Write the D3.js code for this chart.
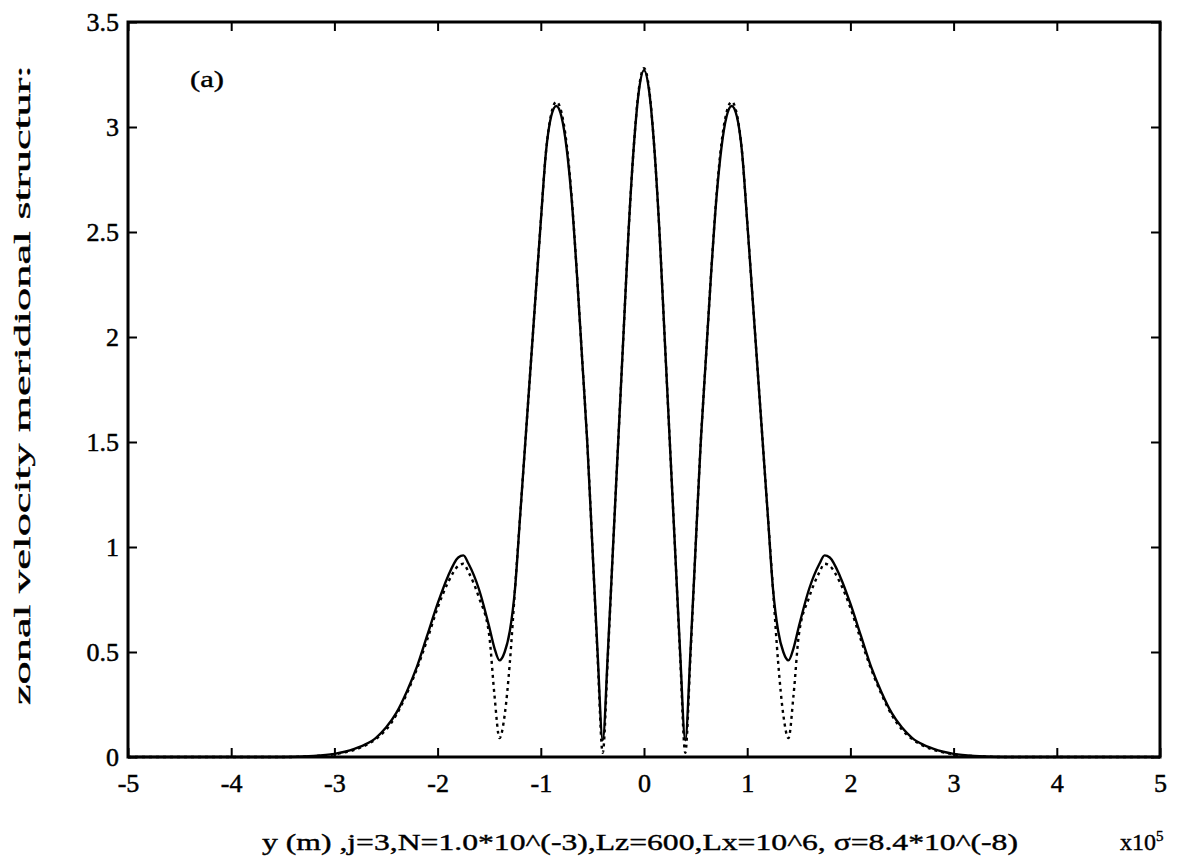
<!DOCTYPE html>
<html>
<head>
<meta charset="utf-8">
<script src="https://cdn.jsdelivr.net/npm/d3@7"></script>
<style>
  body { margin: 0; background: #fff; }
  svg { display: block; }
  .tick text { font-family: "Liberation Serif", "DejaVu Serif", serif; font-size: 26px; fill: #000; stroke: #000; stroke-width: 0.5px; }
  .label { font-family: "Liberation Serif", "DejaVu Serif", serif; font-size: 24px; fill: #000; stroke: #000; stroke-width: 0.4px; }
</style>
</head>
<body>
<svg id="chart" width="1191" height="867"></svg>
<script>
// meridional coordinate, units of 1e5 m
const yPos = [
  -5, -4, -3.5, -3.2, -3.0, -2.9, -2.8, -2.7, -2.6, -2.5, -2.4, -2.3, -2.2, -2.1, -2.0,
  -1.9, -1.8, -1.75, -1.7, -1.6, -1.5, -1.45, -1.4, -1.35, -1.3, -1.25, -1.2, -1.15, -1.1,
  -1.05, -1.0, -0.95, -0.9, -0.85, -0.8, -0.75, -0.7, -0.65, -0.6, -0.55, -0.5, -0.45, -0.4,
  -0.35, -0.3, -0.25, -0.2, -0.15, -0.1, -0.05, 0,
  0.05, 0.1, 0.15, 0.2, 0.25, 0.3, 0.35, 0.4, 0.45, 0.5, 0.55, 0.6, 0.65, 0.7, 0.75, 0.8,
  0.85, 0.9, 0.95, 1.0, 1.05, 1.1, 1.15, 1.2, 1.25, 1.3, 1.35, 1.4, 1.45, 1.5, 1.6, 1.7,
  1.75, 1.8, 1.9, 2.0, 2.1, 2.2, 2.3, 2.4, 2.5, 2.6, 2.7, 2.8, 2.9, 3.0, 3.2, 3.5, 4, 5
];

// solid curve
const solidVals = [
  0, 0, 0, 0.005, 0.015, 0.025, 0.04, 0.06, 0.09, 0.14, 0.21, 0.31, 0.43, 0.58, 0.73,
  0.86, 0.95, 0.96, 0.92, 0.8, 0.62, 0.52, 0.46, 0.5, 0.6, 0.8, 1.15, 1.5, 1.85,
  2.2, 2.55, 2.88, 3.05, 3.10, 3.05, 2.9, 2.65, 2.3, 1.9, 1.5, 1.0, 0.5, 0.08,
  0.5, 1.0, 1.5, 2.0, 2.5, 2.9, 3.17, 3.27,
  3.17, 2.9, 2.5, 2.0, 1.5, 1.0, 0.5, 0.08, 0.5, 1.0, 1.5, 1.9, 2.3, 2.65, 2.9, 3.05,
  3.10, 3.05, 2.88, 2.55, 2.2, 1.85, 1.5, 1.15, 0.8, 0.6, 0.5, 0.46, 0.52, 0.62, 0.8, 0.92,
  0.96, 0.95, 0.86, 0.73, 0.58, 0.43, 0.31, 0.21, 0.14, 0.09, 0.06, 0.04, 0.025, 0.015, 0.005, 0, 0, 0
];

// dashed curve
const dashedVals = [
  0, 0, 0, 0.004, 0.013, 0.022, 0.035, 0.055, 0.085, 0.13, 0.2, 0.3, 0.42, 0.56, 0.71,
  0.83, 0.91, 0.92, 0.88, 0.76, 0.58, 0.3, 0.09, 0.2, 0.45, 0.8, 1.15, 1.5, 1.85,
  2.2, 2.55, 2.88, 3.06, 3.12, 3.07, 2.92, 2.66, 2.3, 1.9, 1.5, 1.0, 0.48, 0.02,
  0.48, 1.0, 1.5, 2.0, 2.5, 2.9, 3.18, 3.28,
  3.18, 2.9, 2.5, 2.0, 1.5, 1.0, 0.48, 0.02, 0.48, 1.0, 1.5, 1.9, 2.3, 2.66, 2.92, 3.07,
  3.12, 3.06, 2.88, 2.55, 2.2, 1.85, 1.5, 1.15, 0.8, 0.45, 0.2, 0.09, 0.3, 0.58, 0.76, 0.88,
  0.92, 0.91, 0.83, 0.71, 0.56, 0.42, 0.3, 0.2, 0.13, 0.085, 0.055, 0.035, 0.022, 0.013, 0.004, 0, 0, 0
];

const xTicks = [-5, -4, -3, -2, -1, 0, 1, 2, 3, 4, 5];
const yTicks = [0, 0.5, 1, 1.5, 2, 2.5, 3, 3.5];

const svg = d3.select('#chart');
const m = {left: 128, right: 1160, top: 22, bottom: 757};

const x = d3.scaleLinear().domain([-5, 5]).range([m.left, m.right]);
const y = d3.scaleLinear().domain([0, 3.5]).range([m.bottom, m.top]);

const fmt = d => String(d);

// axes, ticks pointing inward
svg.append('g')
  .attr('transform', `translate(0,${m.bottom})`)
  .call(d3.axisBottom(x).tickValues(xTicks).tickSizeInner(-9).tickSizeOuter(0).tickPadding(17).tickFormat(fmt))
  .call(g => g.select('.domain').remove());

svg.append('g')
  .attr('transform', `translate(0,${m.top})`)
  .call(d3.axisTop(x).tickValues(xTicks).tickSizeInner(-9).tickSizeOuter(0).tickFormat(''))
  .call(g => g.select('.domain').remove());

svg.append('g')
  .attr('transform', `translate(${m.left},0)`)
  .call(d3.axisLeft(y).tickValues(yTicks).tickSizeInner(-9).tickSizeOuter(0).tickPadding(9).tickFormat(fmt))
  .call(g => g.select('.domain').remove());

svg.append('g')
  .attr('transform', `translate(${m.right},0)`)
  .call(d3.axisRight(y).tickValues(yTicks).tickSizeInner(-9).tickSizeOuter(0).tickFormat(''))
  .call(g => g.select('.domain').remove());

svg.selectAll('.tick line').attr('stroke', '#000').attr('stroke-width', 2);

svg.append('rect')
  .attr('x', m.left).attr('y', m.top)
  .attr('width', m.right - m.left).attr('height', m.bottom - m.top)
  .attr('fill', 'none').attr('stroke', '#000').attr('stroke-width', 3);

const pts = vals => yPos.map((v, i) => [v, vals[i]]);
const line = d3.line().x(d => x(d[0])).y(d => y(d[1])).curve(d3.curveMonotoneX);

svg.append('path')
  .attr('d', line(pts(dashedVals)))
  .attr('fill', 'none').attr('stroke', '#000').attr('stroke-width', 2.4)
  .attr('stroke-dasharray', '3,4');

svg.append('path')
  .attr('d', line(pts(solidVals)))
  .attr('fill', 'none').attr('stroke', '#000').attr('stroke-width', 2.4);

// texts
svg.append('text').attr('class', 'label')
  .attr('x', 190).attr('y', 87).attr('font-size', 27)
  .attr('textLength', 34).attr('lengthAdjust', 'spacingAndGlyphs')
  .text('(a)');

svg.append('text').attr('class', 'label')
  .attr('transform', 'translate(30,385) rotate(-90)')
  .attr('text-anchor', 'middle')
  .attr('textLength', 640).attr('lengthAdjust', 'spacingAndGlyphs')
  .text('zonal velocity meridional structur:');

svg.append('text').attr('class', 'label')
  .attr('x', 262).attr('y', 850)
  .attr('textLength', 756).attr('lengthAdjust', 'spacingAndGlyphs')
  .text('y (m) ,j=3,N=1.0*10^(-3),Lz=600,Lx=10^6, \u03c3=8.4*10^(-8)');

const exp = svg.append('text').attr('class', 'label')
  .attr('x', 1120).attr('y', 850);
exp.append('tspan').text('x10');
exp.append('tspan').attr('font-size', 15).attr('dy', -9).text('5');
</script>
</body>
</html>
